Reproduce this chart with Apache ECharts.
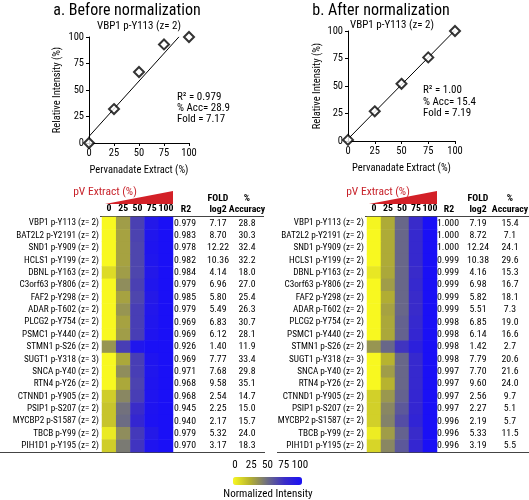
<!DOCTYPE html>
<html><head><meta charset="utf-8">
<script src="https://cdn.jsdelivr.net/npm/echarts@6/dist/echarts.min.js"></script>
<style>html,body{margin:0;padding:0;background:#fff}#c{width:529px;height:500px}</style>
</head><body><div id="c"></div>
<script>
// ---------- data ----------
const extractPct = [0, 25, 50, 75, 100];
const beforeIntensity = [0, 32, 67, 93, 100];
const afterIntensity = [1, 27, 52, 76, 100];
const beforeTrendX = [0, 90];
const beforeTrendY = [6.2, 100.2];
const afterTrendX = [0, 100];
const afterTrendY = [1.8, 100.6];
const beforeStats = ['R\u00b2 = 0.979', '% Acc= 28.9', 'Fold = 7.17'];
const afterStats = ['R\u00b2 = 1.00', '% Acc= 15.4', 'Fold = 7.19'];

const colLabels = ['0', '25', '50', '75', '100'];
const rowLabels = [
  'VBP1 p-Y113 (z= 2)', 'BAT2L2 p-Y2191 (z= 2)', 'SND1 p-Y909 (z= 2)', 'HCLS1 p-Y199 (z= 2)',
  'DBNL p-Y163 (z= 2)', 'C3orf63 p-Y806 (z= 2)', 'FAF2 p-Y298 (z= 2)', 'ADAR p-T602 (z= 2)',
  'PLCG2 p-Y754 (z= 2)', 'PSMC1 p-Y440 (z= 2)', 'STMN1 p-S26 (z= 2)', 'SUGT1 p-Y318 (z= 3)',
  'SNCA p-Y40 (z= 2)', 'RTN4 p-Y26 (z= 2)', 'CTNND1 p-Y905 (z= 2)', 'PSIP1 p-S207 (z= 2)',
  'MYCBP2 p-S1587 (z= 2)', 'TBCB p-Y99 (z= 2)', 'PIH1D1 p-Y195 (z= 2)'
];
const beforeHeat = [
  [0, 32, 67, 93, 100], [0, 30, 66, 95, 100], [0, 30, 65, 96, 100], [0, 30, 65, 95, 100],
  [10, 32, 65, 93, 100], [0, 38, 67, 95, 100], [0, 30, 65, 92, 100], [0, 35, 68, 94, 100],
  [0, 30, 68, 95, 100], [0, 32, 68, 96, 100], [35, 68, 95, 100, 100], [0, 28, 68, 96, 100],
  [0, 38, 68, 95, 100], [0, 28, 66, 96, 100], [15, 40, 68, 96, 100], [18, 48, 75, 97, 100],
  [18, 50, 80, 98, 100], [5, 38, 70, 92, 100], [15, 45, 72, 96, 100]
];
const afterHeat = [
  [1, 27, 52, 76, 100], [0, 27, 52, 78, 100], [0, 27, 52, 78, 100], [0, 27, 52, 78, 100],
  [6, 28, 52, 76, 100], [0, 32, 52, 78, 100], [0, 26, 52, 76, 100], [0, 30, 52, 76, 100],
  [0, 28, 54, 78, 100], [0, 28, 54, 80, 100], [35, 52, 72, 86, 100], [0, 24, 52, 78, 100],
  [0, 32, 52, 78, 100], [0, 24, 52, 78, 100], [14, 34, 54, 80, 100], [14, 40, 58, 80, 100],
  [14, 42, 62, 82, 100], [4, 32, 54, 76, 100], [12, 40, 58, 80, 100]
];
const beforeR2 = [0.979, 0.983, 0.978, 0.982, 0.984, 0.979, 0.985, 0.979, 0.969, 0.969, 0.926, 0.969, 0.971, 0.968, 0.968, 0.945, 0.940, 0.979, 0.970];
const beforeFold = [7.17, 8.70, 12.22, 10.36, 4.14, 6.96, 5.80, 5.49, 6.83, 6.12, 1.40, 7.77, 7.68, 9.58, 2.54, 2.25, 2.17, 5.32, 3.17];
const beforeAcc = [28.8, 30.3, 32.4, 32.2, 18.0, 27.0, 25.4, 26.3, 30.7, 28.1, 11.9, 33.4, 29.8, 35.1, 14.7, 15.0, 15.7, 24.0, 18.3];
const afterR2 = [1.000, 1.000, 1.000, 0.999, 0.999, 0.999, 0.999, 0.999, 0.998, 0.998, 0.998, 0.998, 0.997, 0.997, 0.997, 0.997, 0.996, 0.996, 0.996];
const afterFold = [7.19, 8.72, 12.24, 10.38, 4.16, 6.98, 5.82, 5.51, 6.85, 6.14, 1.42, 7.79, 7.70, 9.60, 2.56, 2.27, 2.19, 5.33, 3.19];
const afterAcc = [15.4, 7.1, 24.1, 29.6, 15.3, 16.7, 18.1, 7.3, 19.0, 16.6, 2.7, 20.6, 21.6, 24.0, 9.7, 5.1, 5.7, 11.5, 5.5];
const legendTicks = [0, 25, 50, 75, 100];

// ---------- build ----------
const FONT = 'Roboto Condensed';
const heatData = m => { const d = []; m.forEach((row, r) => row.forEach((v, c) => d.push([c, r, v]))); return d; };
const pts = (xs, ys) => xs.map((x, i) => [x, ys[i]]);

function scatterAxes(gi, nameGapY) {
  const common = {
    gridIndex: gi, type: 'value', min: 0, max: 100, interval: 25,
    axisLine: { show: true, lineStyle: { color: '#000', width: 1 } },
    axisTick: { show: true, length: 3, lineStyle: { color: '#000' } },
    splitLine: { show: false },
    axisLabel: { color: '#000', fontSize: 10.5, fontFamily: FONT, margin: 5 },
    nameTextStyle: { color: '#000', fontSize: 10.5, fontFamily: FONT },
    nameLocation: 'middle'
  };
  return {
    x: Object.assign({}, common, { name: 'Pervanadate Extract (%)', nameGap: 22 }),
    y: Object.assign({}, common, { name: 'Relative Intensity (%)', nameGap: nameGapY })
  };
}
const sA = scatterAxes(0, 26), sB = scatterAxes(1, 25);

function tableAxis(gi, data, offset) {
  return {
    gridIndex: gi, type: 'category', data: data, inverse: true, position: 'right', offset: offset,
    axisLine: { show: false }, axisTick: { show: false }, splitLine: { show: false },
    axisLabel: { color: '#000', fontSize: 9.8, fontFamily: FONT, margin: 0, align: 'center', interval: 0 }
  };
}
function labelAxis(gi) {
  return {
    gridIndex: gi, type: 'category', data: rowLabels, inverse: true,
    axisLine: { show: false }, axisTick: { show: false }, splitLine: { show: false },
    axisLabel: { color: '#000', fontSize: 9.2, fontFamily: FONT, margin: 3, interval: 0 }
  };
}
function heatX(gi) {
  return {
    gridIndex: gi, type: 'category', data: colLabels, position: 'top',
    axisLine: { show: false }, axisTick: { show: false }, splitLine: { show: false },
    axisLabel: { color: '#000', fontSize: 9.8, fontWeight: 'bold', fontFamily: FONT, margin: 3, interval: 0 }
  };
}

const txt = (t, x, y, size, opts) => ({
  type: 'text', x: x, y: y,
  style: { text: t, fill: '#000', font: (opts && opts.weight ? opts.weight + ' ' : '') + size + 'px "' + FONT + '"',
           textAlign: (opts && opts.align) || 'center', textVerticalAlign: 'middle' }
});
const redTxt = (t, x, y) => { const e = txt(t, x, y, 11.5); e.style.fill = '#c8232b'; return e; };

const graphics = [
  txt('a. Before normalization', 127, 11, 16),
  txt('b. After normalization', 381, 11, 16),
  txt('VBP1 p-Y113 (z= 2)', 139, 26, 11),
  txt('VBP1 p-Y113 (z= 2)', 392, 25, 11),
  txt(beforeStats[0], 177, 97, 11, { align: 'left' }),
  txt(beforeStats[1], 177, 108, 11, { align: 'left' }),
  txt(beforeStats[2], 177, 119, 11, { align: 'left' }),
  txt(afterStats[0], 423, 90, 11, { align: 'left' }),
  txt(afterStats[1], 423, 102, 11, { align: 'left' }),
  txt(afterStats[2], 423, 113, 11, { align: 'left' }),
  redTxt('pV Extract (%)', 105, 192),
  redTxt('pV Extract (%)', 378, 192),
  { type: 'polygon', shape: { points: [[105, 204], [173, 204], [173, 191]] }, style: { fill: '#d32027' } },
  { type: 'polygon', shape: { points: [[369, 204], [437, 204], [437, 191]] }, style: { fill: '#d32027' } },
  txt('R2', 186, 210, 9.8, { weight: 'bold' }),
  txt('FOLD', 218, 199, 9.8, { weight: 'bold' }),
  txt('log2', 218, 210, 9.8, { weight: 'bold' }),
  txt('%', 247, 199, 9.8, { weight: 'bold' }),
  txt('Accuracy', 247, 210, 9.8, { weight: 'bold' }),
  txt('R2', 449, 210, 9.8, { weight: 'bold' }),
  txt('FOLD', 478, 199, 9.8, { weight: 'bold' }),
  txt('log2', 478, 210, 9.8, { weight: 'bold' }),
  txt('%', 510, 199, 9.8, { weight: 'bold' }),
  txt('Accuracy', 510, 210, 9.8, { weight: 'bold' }),
  { type: 'line', shape: { x1: 100, y1: 216.5, x2: 264, y2: 216.5 }, style: { stroke: '#444', lineWidth: 1 } },
  { type: 'line', shape: { x1: 365, y1: 216.5, x2: 529, y2: 216.5 }, style: { stroke: '#444', lineWidth: 1 } },
  { type: 'line', shape: { x1: 0, y1: 452.5, x2: 265, y2: 452.5 }, style: { stroke: '#444', lineWidth: 1 } },
  { type: 'line', shape: { x1: 277, y1: 452.5, x2: 529, y2: 452.5 }, style: { stroke: '#444', lineWidth: 1 } },
  txt('Normalized Intensity', 268, 494, 11)
];
legendTicks.forEach(v => graphics.push(txt(String(v), 235 + v / 100 * 65, 465, 11)));

const heatColors = ['#f8f820', '#b4b030', '#6c6c84', '#3a2cc8', '#1a10f6'];

const option = {
  animation: false,
  backgroundColor: '#fff',
  textStyle: { fontFamily: FONT },
  grid: [
    { left: 89, top: 37, width: 100, height: 106 },
    { left: 348, top: 31, width: 107, height: 110 },
    { left: 102, top: 217, width: 71, height: 235 },
    { left: 367, top: 217, width: 70, height: 235 }
  ],
  xAxis: [sA.x, sB.x, heatX(2), heatX(3)],
  yAxis: [
    sA.y, sB.y,
    labelAxis(2),
    tableAxis(2, beforeR2.map(v => v.toFixed(3)), 12),
    tableAxis(2, beforeFold.map(v => v.toFixed(2)), 45),
    tableAxis(2, beforeAcc.map(v => v.toFixed(1)), 74),
    labelAxis(3),
    tableAxis(3, afterR2.map(v => v.toFixed(3)), 11),
    tableAxis(3, afterFold.map(v => v.toFixed(2)), 41),
    tableAxis(3, afterAcc.map(v => v.toFixed(1)), 73)
  ],
  visualMap: {
    type: 'continuous', min: 0, max: 100, seriesIndex: [4, 5], orient: 'horizontal',
    left: 233, top: 477, itemWidth: 8, itemHeight: 69, padding: 0,
    calculable: false, showLabel: false, text: null, hoverLink: false,
    inRange: { color: heatColors }
  },
  graphic: graphics,
  series: [
    { type: 'scatter', xAxisIndex: 0, yAxisIndex: 0, data: pts(extractPct, beforeIntensity),
      symbol: 'emptyDiamond', symbolSize: 10, itemStyle: { color: '#000', borderWidth: 1 }, z: 5 },
    { type: 'line', xAxisIndex: 0, yAxisIndex: 0, data: pts(beforeTrendX, beforeTrendY),
      symbol: 'none', lineStyle: { color: '#000', width: 1 }, clip: true },
    { type: 'scatter', xAxisIndex: 1, yAxisIndex: 1, data: pts(extractPct, afterIntensity),
      symbol: 'emptyDiamond', symbolSize: 10, itemStyle: { color: '#000', borderWidth: 1 }, z: 5 },
    { type: 'line', xAxisIndex: 1, yAxisIndex: 1, data: pts(afterTrendX, afterTrendY),
      symbol: 'none', lineStyle: { color: '#000', width: 1 }, clip: true },
    { type: 'heatmap', xAxisIndex: 2, yAxisIndex: 2, data: heatData(beforeHeat), itemStyle: { borderWidth: 0 } },
    { type: 'heatmap', xAxisIndex: 3, yAxisIndex: 6, data: heatData(afterHeat), itemStyle: { borderWidth: 0 } }
  ]
};
const chart = echarts.init(document.getElementById('c'), null, { renderer: 'canvas' });
chart.setOption(option);
</script></body></html>
